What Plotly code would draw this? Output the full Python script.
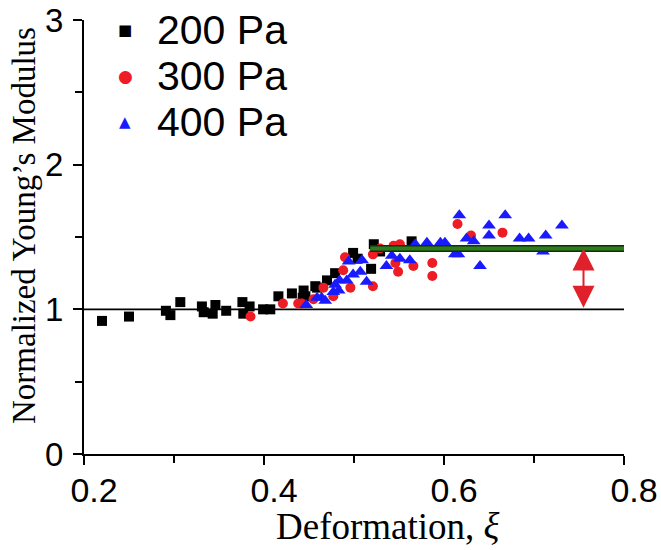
import plotly.graph_objects as go

# ---- data ----
series_names = ["200 Pa", "300 Pa", "400 Pa"]

x_200 = [0.220, 0.250, 0.291, 0.296, 0.307, 0.331, 0.333, 0.343, 0.346, 0.358,
         0.376, 0.377, 0.384, 0.399, 0.407, 0.416, 0.431, 0.443, 0.444, 0.446,
         0.457, 0.459, 0.470, 0.479, 0.499, 0.504, 0.519, 0.522, 0.529, 0.564]
y_200 = [0.92, 0.95, 0.99, 0.96, 1.05, 1.02, 0.98, 0.97, 1.03, 0.99,
         1.05, 0.97, 1.02, 1.00, 1.00, 1.09, 1.11, 1.08, 1.13, 1.09,
         1.16, 1.15, 1.20, 1.25, 1.39, 1.35, 1.28, 1.45, 1.40, 1.47]

x_300 = [0.385, 0.421, 0.438, 0.442, 0.455, 0.466, 0.477, 0.488, 0.490, 0.496,
         0.521, 0.521, 0.529, 0.544, 0.546, 0.549, 0.551, 0.566, 0.587, 0.587,
         0.615, 0.630, 0.665]
y_300 = [0.95, 1.04, 1.04, 1.04, 1.07, 1.15, 1.09, 1.27, 1.36, 1.15,
         1.38, 1.16, 1.42, 1.44, 1.32, 1.26, 1.45, 1.30, 1.32, 1.23,
         1.59, 1.51, 1.53]

x_400 = [0.447, 0.459, 0.464, 0.468, 0.477, 0.479, 0.483, 0.484, 0.492, 0.494,
         0.499, 0.507, 0.509, 0.514, 0.536, 0.542, 0.551, 0.562, 0.568, 0.581,
         0.596, 0.601, 0.612, 0.616, 0.617, 0.625, 0.633, 0.640, 0.650, 0.650,
         0.668, 0.684, 0.694, 0.710, 0.713, 0.731]
y_400 = [1.03, 1.08, 1.08, 1.06, 1.12, 1.17, 1.13, 1.20, 1.20, 1.33,
         1.24, 1.26, 1.34, 1.19, 1.30, 1.37, 1.35, 1.34, 1.45, 1.46,
         1.46, 1.46, 1.38, 1.38, 1.65, 1.49, 1.47, 1.30, 1.58, 1.51,
         1.65, 1.49, 1.49, 1.40, 1.51, 1.58]

baseline_x = [0.2, 0.8]
baseline_y = [1.0, 1.0]
plateau_x = [0.518, 0.8]
plateau_y = [1.42, 1.42]
arrow_x = 0.755

x_ticks = [0.2, 0.4, 0.6, 0.8]
y_ticks = [0, 1, 2, 3]
x_title = "Deformation, <i>ξ</i>"
y_title = "Normalized Young’s Modulus"

colors = ["#000000", "#ee1c24", "#1a1aff"]
symbols = ["square", "circle", "triangle-up"]
marker_sizes = [10, 10, 12]
glyphs = ["■", "●", "▲"]
glyph_sizes = [15, 17, 15]

fig = go.Figure()

fig.add_trace(go.Scatter(x=baseline_x, y=baseline_y, mode="lines",
                         line=dict(color="black", width=1.8), showlegend=False,
                         hoverinfo="skip"))

for xs, ys, name, c, s, ms in zip([x_200, x_300, x_400], [y_200, y_300, y_400],
                                  series_names, colors, symbols, marker_sizes):
    fig.add_trace(go.Scatter(x=xs, y=ys, mode="markers", name=name,
                             marker=dict(color=c, symbol=s, size=ms,
                                         line=dict(width=0)),
                             showlegend=False))

fig.add_trace(go.Scatter(x=plateau_x, y=plateau_y, mode="lines",
                         line=dict(color="#10300a", width=7), showlegend=False,
                         hoverinfo="skip"))
fig.add_trace(go.Scatter(x=plateau_x, y=plateau_y, mode="lines",
                         line=dict(color="#2e7d1c", width=4), showlegend=False,
                         hoverinfo="skip"))

# double arrow
fig.add_annotation(x=arrow_x, y=plateau_y[0], ax=arrow_x, ay=baseline_y[0],
                   xref="x", yref="y", axref="x", ayref="y", text="",
                   showarrow=True, arrowhead=2, startarrowhead=2,
                   arrowside="end+start", arrowsize=2.2, startarrowsize=2.2,
                   arrowwidth=2, arrowcolor="#e0202a")

# legend as annotations (plot area: x 84..624 px, y 20..454 px)
row_px = [30, 76, 122]
for name, c, g, gs, r in zip(series_names, colors, glyphs, glyph_sizes, row_px):
    yp = (454 - r) / 434
    fig.add_annotation(xref="paper", yref="paper", x=(125 - 84) / 540, y=yp,
                       xanchor="center", yanchor="middle", showarrow=False,
                       text=g, font=dict(family="DejaVu Sans", size=gs, color=c))
    fig.add_annotation(xref="paper", yref="paper", x=(155 - 84) / 540, y=yp,
                       xanchor="left", yanchor="middle", showarrow=False,
                       text=name,
                       font=dict(family="Liberation Sans, Arial", size=41, color="black"))

# axis titles as annotations
fig.add_annotation(xref="paper", yref="paper", x=(388 - 84) / 540, y=(454 - 526) / 434,
                   xanchor="center", yanchor="middle", showarrow=False, text=x_title,
                   font=dict(size=37, family="Liberation Serif, Times New Roman", color="black"))
fig.add_annotation(xref="paper", yref="paper", x=(24 - 84) / 540, y=(454 - 226) / 434,
                   xanchor="center", yanchor="middle", showarrow=False, text=y_title,
                   textangle=-90,
                   font=dict(size=33, family="Liberation Serif, Times New Roman", color="black"))

fig.update_layout(
    width=661, height=550,
    margin=dict(l=84, r=37, t=20, b=96),
    paper_bgcolor="white", plot_bgcolor="white",
    font=dict(family="Liberation Sans, Arial", color="black"),
    xaxis=dict(range=[0.2, 0.8], tickvals=x_ticks, ticktext=[str(v) for v in x_ticks],
               automargin=False,
               showgrid=False, zeroline=False, showline=True, linecolor="black",
               linewidth=2, ticks="outside", ticklen=9, tickwidth=2, tickcolor="black",
               minor=dict(dtick=0.1, tick0=0.2, ticks="outside", ticklen=7,
                          tickwidth=2, tickcolor="black"),
               ticklabelshift=10, ticklabelstandoff=-4,
               tickfont=dict(size=34, family="Liberation Sans, Arial")),
    yaxis=dict(range=[0, 3], tickvals=y_ticks, ticktext=[str(v) for v in y_ticks],
               automargin=False,
               showgrid=False, zeroline=False, showline=True, linecolor="black",
               linewidth=2, ticks="outside", ticklen=9, tickwidth=2, tickcolor="black",
               minor=dict(dtick=0.5, tick0=0, ticks="outside", ticklen=7,
                          tickwidth=2, tickcolor="black"),
               ticklabelstandoff=3,
               tickfont=dict(size=33, family="Liberation Sans, Arial")),
)

fig.write_html("out.html", config={"displayModeBar": False},
               post_script="document.body.style.margin='0';document.body.style.padding='0';")
